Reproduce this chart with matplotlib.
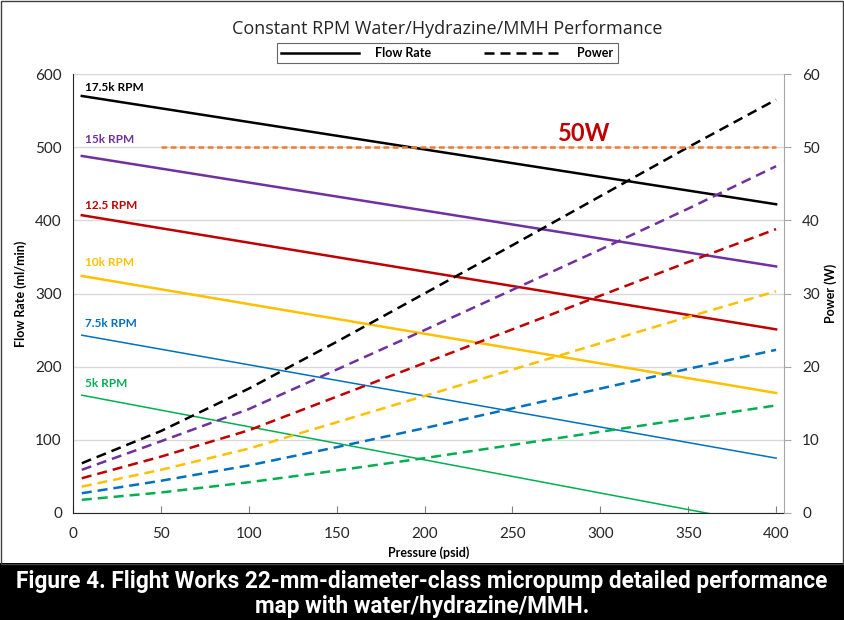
import matplotlib.pyplot as plt
from matplotlib.lines import Line2D
from matplotlib.patches import Rectangle

plt.rcParams['font.family'] = ['Lato', 'DejaVu Sans']

# pressure points (psid)
pressure = [5, 50, 100, 150, 200, 250, 300, 350, 400]
flow_pressure = [5, 400]

rpm_labels = ['17.5k RPM', '15k RPM', '12.5 RPM', '10k RPM', '7.5k RPM', '5k RPM']
colors = ['#000000', '#7030A0', '#C00000', '#FFC000', '#0070C0', '#00B050']

# flow rate (ml/min), straight lines, start and end
flow = [
    [570, 422],
    [488, 337],
    [407, 251],
    [324, 164],
    [243, 75],
    [161, -18],
]

# power (W)
power = [
    [6.8, 11.2, 17.0, 23.4, 30.0, 36.6, 43.3, 50.0, 56.5],
    [5.9, 9.8, 14.2, 19.6, 25.0, 30.5, 36.0, 41.6, 47.4],
    [4.75, 7.7, 11.3, 15.9, 20.5, 25.1, 29.7, 34.3, 38.8],
    [3.6, 5.9, 8.8, 12.4, 16.0, 19.6, 23.2, 26.8, 30.3],
    [2.7, 4.4, 6.5, 9.0, 11.6, 14.3, 17.0, 19.7, 22.3],
    [1.8, 2.8, 4.2, 5.8, 7.5, 9.3, 11.1, 12.9, 14.7],
]
label_y = [582, 511, 420, 342, 259, 177]

limit_x = [50, 400]
limit_w = [50, 50]

fig = plt.figure(figsize=(8.44, 6.2), dpi=100)
ax = fig.add_axes([0.0865, 0.1726, 0.8424, 0.708])
ax2 = ax.twinx()

for i in range(len(rpm_labels)):
    lw = 1.8 if i < 4 else 1.1
    ax.plot(flow_pressure, flow[i], color=colors[i], lw=lw, zorder=3)
    ax2.plot(pressure, power[i], color=colors[i], lw=1.8, dashes=(4, 2.4))
    ax.text(7, label_y[i], rpm_labels[i], color=colors[i], fontsize=8.5,
            fontweight='bold', va='center', ha='left')

ax2.plot(limit_x, limit_w, color='#ED7D31', lw=1.8, dashes=(2.3, 1.4))
ax2.text(291, 51.9, '50W', color='#C00000', fontsize=17, fontweight='bold',
         ha='center', va='center')

ax.set_xlim(0, 404.5)
ax.set_ylim(0, 600)
ax2.set_ylim(0, 60)
ax.set_xticks(range(0, 401, 50))
ax.set_yticks(range(0, 601, 100))
ax2.set_yticks(range(0, 61, 10))
ax.grid(axis='y', color='#D9D9D9', lw=1)
ax.set_axisbelow(True)

for a in (ax, ax2):
    a.spines['top'].set_visible(False)
ax2.spines['left'].set_visible(False)
ax2.spines['bottom'].set_visible(False)
ax.spines['right'].set_visible(False)
ax.spines['left'].set_color('#262626')
ax.spines['bottom'].set_color('#262626')
ax2.spines['right'].set_color('#A6A6A6')

ax.tick_params(axis='y', length=0, labelsize=11, labelcolor='#262626', pad=8)
ax.tick_params(axis='x', direction='in', length=5, color='#808080',
               labelsize=11, labelcolor='#262626', pad=10)
ax2.tick_params(axis='y', length=5, color='#A6A6A6', labelsize=11,
                labelcolor='#262626', pad=8)

ax.set_xlabel('Pressure (psid)', fontsize=9, fontweight='bold', labelpad=4)
ax.set_ylabel('Flow Rate (ml/min)', fontsize=9, fontweight='bold', labelpad=6)
ax2.set_ylabel('Power (W)', fontsize=9, fontweight='bold', labelpad=3)

fig.text(0.53, 0.953, 'Constant RPM Water/Hydrazine/MMH Performance',
         fontsize=13, ha='center', va='center', color='#262626',
         family=['Open Sans', 'DejaVu Sans'])

handles = [Line2D([], [], color='black', lw=1.8),
           Line2D([], [], color='black', lw=1.8, dashes=(4, 2.4))]
leg = fig.legend(handles, ['Flow Rate', 'Power'], ncol=2, loc='center',
                 bbox_to_anchor=(0.53, 0.9145),
                 prop={'weight': 'bold', 'size': 9}, handlelength=6.2,
                 handletextpad=1.3, columnspacing=4.2, frameon=True, fancybox=False,
                 edgecolor='#404040', borderpad=0.35, borderaxespad=0)
leg.get_frame().set_linewidth(0.8)

fig.patches.append(Rectangle((0, 0), 1, 0.092, transform=fig.transFigure,
                             facecolor='black', edgecolor='none', zorder=0))
fig.patches.append(Rectangle((0.001, 0.09), 0.998, 0.909, transform=fig.transFigure,
                             facecolor='none', edgecolor='#404040', lw=1))
fig.text(0.5, 0.042,
         'Figure 4. Flight Works 22-mm-diameter-class micropump detailed performance\n'
         'map with water/hydrazine/MMH.',
         color='white', fontsize=16.3, fontweight='bold', ha='center', va='center',
         linespacing=1.1, family=['Roboto', 'DejaVu Sans'])

fig.savefig('out.png', dpi=100)
